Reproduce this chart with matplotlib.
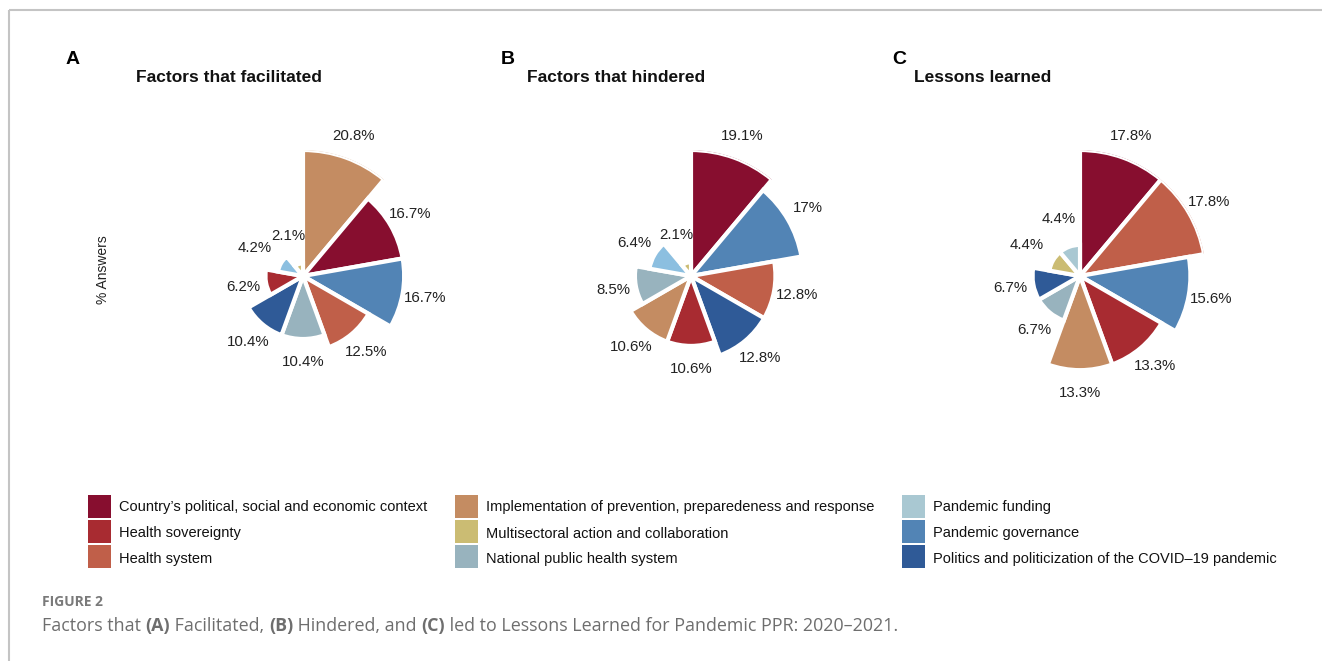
import numpy as np
import matplotlib.pyplot as plt
from matplotlib.patches import Rectangle

# categories in legend order
categories = [
    "Country\u2019s political, social and economic context",
    "Health sovereignty",
    "Health system",
    "Implementation of prevention, preparedeness and response",
    "Multisectoral action and collaboration",
    "National public health system",
    "Pandemic funding",
    "Pandemic governance",
    "Politics and politicization of the COVID\u201319 pandemic",
]
colors = ["#870e2f", "#a82b31", "#c05f49", "#c48c62", "#cbbc73",
          "#98b3be", "#a9c8d2", "#5284b5", "#2f5a97"]

panel_letters = ["A", "B", "C"]
panel_titles = ["Factors that facilitated", "Factors that hindered", "Lessons learned"]

# % answers per category (same order as categories)
facilitated = [16.7, 6.2, 12.5, 20.8, 2.1, 10.4, 4.2, 16.7, 10.4]
hindered = [19.1, 10.6, 12.8, 10.6, 2.1, 8.5, 6.4, 17, 12.8]
lessons = [17.8, 13.3, 17.8, 13.3, 4.4, 6.7, 4.4, 15.6, 6.7]
panel_values = [facilitated, hindered, lessons]

# the funding wedge is drawn sky blue in panels A and B
funding_color_ab = "#8cbfe0"

W, H = 1322, 661
plt.rcParams['font.family'] = ['Liberation Sans', 'DejaVu Sans']
fig = plt.figure(figsize=(W / 100, H / 100), dpi=100)

# background axes in pixel coords for frame, labels, legend and caption
bg = fig.add_axes([0, 0, 1, 1])
bg.set_xlim(0, W)
bg.set_ylim(H, 0)
bg.axis('off')
bg.plot([9, W], [10, 10], color="#c4c4c4", lw=1.5, solid_capstyle='butt')
bg.plot([9, 9], [10, H], color="#c4c4c4", lw=1.5, solid_capstyle='butt')

centers_x = [303, 691, 1080]
center_y = 276
r_px = 126
letter_x = [66, 501, 892]
title_x = [136, 527, 914]

for k in range(3):
    vals = np.array(panel_values[k])
    order = np.argsort(-vals, kind='stable')
    cx = centers_x[k]
    ax = fig.add_axes([(cx - r_px) / W, 1 - (center_y + r_px) / H,
                       2 * r_px / W, 2 * r_px / H], projection='polar')
    ax.set_theta_zero_location('N')
    ax.set_theta_direction(-1)
    n = len(vals)
    width = 2 * np.pi / n
    theta = np.arange(n) * width + width / 2
    cols = [colors[i] for i in order]
    if k < 2:
        cols = [funding_color_ab if i == 6 else colors[i] for i in order]
    ax.bar(theta, vals[order], width=width, color=cols,
           edgecolor='white', linewidth=3)
    vmax = vals.max()
    ax.set_ylim(0, vmax)
    ax.axis('off')
    for t, v in zip(theta, vals[order]):
        pad = (30 if v < 5 else 23) / r_px * vmax
        ax.text(t, v + pad, f"{v:g}%", ha='center', va='center',
                fontsize=10.8, color="#222222")

    bg.text(letter_x[k], 60, panel_letters[k], fontsize=14, fontweight='bold',
            ha='left', va='center', color="black")
    bg.text(title_x[k], 77, panel_titles[k], fontsize=12.5, fontweight='bold',
            ha='left', va='center', color="#111111")

bg.text(103, 270, "% Answers", rotation=90, fontsize=10, ha='center',
        va='center', color="#222222")

# legend, three columns of three
col_x = [88, 455, 902]
for i, (name, c) in enumerate(zip(categories, colors)):
    x0 = col_x[i // 3]
    y0 = 495 + (i % 3) * 25
    bg.add_patch(Rectangle((x0, y0), 23, 23, facecolor=c, edgecolor='none'))
    bg.text(x0 + 31, y0 + 11 + (i % 3), name, fontsize=10.5, color="#111111",
            ha='left', va='center_baseline')

# caption
cap_font = ['Open Sans', 'DejaVu Sans']
bg.text(42, 602, "FIGURE 2", fontsize=10, fontweight='bold', color="#7a7a7a",
        family=cap_font, ha='left', va='center')
parts = [("Factors that ", 'normal'), ("(A)", 'bold'), (" Facilitated, ", 'normal'),
         ("(B)", 'bold'), (" Hindered, and ", 'normal'), ("(C)", 'bold'),
         (" led to Lessons Learned for Pandemic PPR: 2020\u20132021.", 'normal')]
prev = bg.text(42, 635, parts[0][0], fontsize=12.9, color="#6e6e6e",
               family=cap_font, fontweight=parts[0][1], ha='left', va='bottom')
for s, w in parts[1:]:
    prev = bg.annotate(s, xy=(1, 0), xycoords=prev, fontsize=12.9,
                       color="#6e6e6e", family=cap_font, fontweight=w,
                       ha='left', va='bottom')

fig.savefig("out.png", dpi=100)
